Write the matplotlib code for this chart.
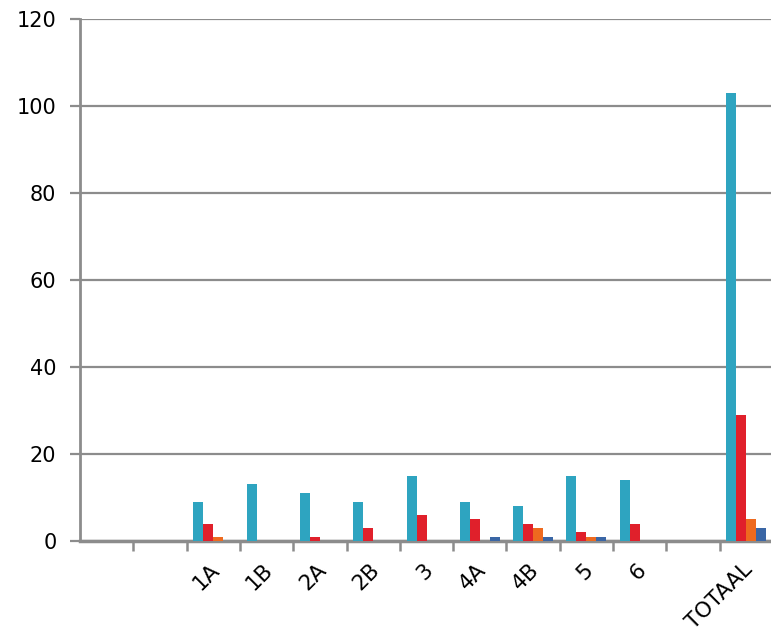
import matplotlib
matplotlib.use("Agg")
import matplotlib.pyplot as plt
import matplotlib.transforms as mtransforms
import numpy as np

categories = ["", "", "1A", "1B", "2A", "2B", "3", "4A", "4B", "5", "6", "", "TOTAAL"]
series_teal = [0, 0, 9, 13, 11, 9, 15, 9, 8, 15, 14, 0, 103]
series_red = [0, 0, 4, 0, 1, 3, 6, 5, 4, 2, 4, 0, 29]
series_orange = [0, 0, 1, 0, 0, 0, 0, 0, 3, 1, 0, 0, 5]
series_blue = [0, 0, 0, 0, 0, 0, 0, 1, 1, 1, 0, 0, 3]
y_ticks = [0, 20, 40, 60, 80, 100, 120]

colors = ["#2EA4C0", "#E0202B", "#EE6A1F", "#3A66A5"]
series = [series_teal, series_red, series_orange, series_blue]

fig = plt.figure(figsize=(7.71, 6.34), dpi=100)
ax = fig.add_axes([80/771, 1-541/634, 693/771, (541-19)/634])

x = np.arange(len(categories))
bw = 0.1875
for k, (vals, c) in enumerate(zip(series, colors)):
    offs = -0.375 + bw*k + bw/2
    ax.bar(x + offs, vals, width=bw, color=c, edgecolor="none", zorder=3)

ax.set_xlim(-0.5, len(categories)-0.5)
ax.set_ylim(0, 120)
ax.set_yticks(y_ticks)
ax.set_yticklabels([str(v) for v in y_ticks], fontsize=15, family="DejaVu Sans")
ax.grid(axis="y", color="#8c8c8c", linewidth=1.6, zorder=0)
ax.set_axisbelow(True)

ax.set_xticks(x)
ax.set_xticklabels(categories, rotation=45, ha="right", rotation_mode="anchor",
                   fontsize=15.5, family="DejaVu Sans")
ax.tick_params(axis="x", which="major", length=0, pad=12)
shift = mtransforms.ScaledTranslation(-4/100, -2/100, fig.dpi_scale_trans)
for lab in ax.get_xticklabels():
    lab.set_transform(lab.get_transform() + shift)
ax.set_xticks(np.arange(0.5, len(categories)-0.5, 1.0), minor=True)
ax.tick_params(axis="x", which="minor", length=7, width=1.8, color="#8c8c8c")
ax.tick_params(axis="y", length=7, width=1.6, color="#8c8c8c", pad=10)

for s in ["top", "right"]:
    ax.spines[s].set_visible(False)
ax.spines["left"].set_color("#8c8c8c")
ax.spines["left"].set_linewidth(2)
ax.spines["bottom"].set_color("#8c8c8c")
ax.spines["bottom"].set_linewidth(2.5)

fig.savefig("out.png", dpi=100)
